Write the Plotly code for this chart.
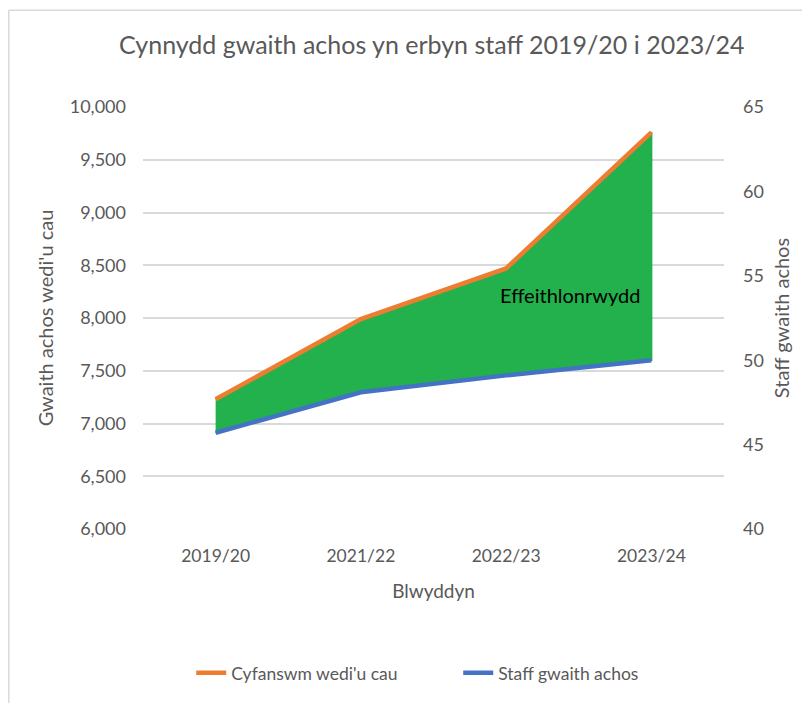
import plotly.graph_objects as go

years = ["2019/20", "2021/22", "2022/23", "2023/24"]
closed = [7230, 7990, 8470, 9760]
staff = [45.7, 48.1, 49.1, 50.0]

L_MIN, L_MAX = 6000, 10000
R_MIN, R_MAX = 40, 65

# staff mapped onto left axis scale for the shaded band
staff_on_left = [L_MIN + (s - R_MIN) * (L_MAX - L_MIN) / (R_MAX - R_MIN) for s in staff]

FONT = "Lato, Carlito, Calibri, sans-serif"
GREY = "#595959"
ORANGE = "#ED7D31"
BLUE = "#4472C4"
GREEN = "#22B14C"

fig = go.Figure()

fig.add_trace(go.Scatter(
    x=years + years[::-1], y=closed + staff_on_left[::-1], mode="lines",
    fill="toself", fillcolor=GREEN, line=dict(color=GREEN, width=2),
    showlegend=False, hoverinfo="skip", yaxis="y"))

fig.add_trace(go.Scatter(
    x=years, y=closed, mode="lines", name="Cyfanswm wedi'u cau",
    line=dict(color=ORANGE, width=4.5), yaxis="y"))

fig.add_trace(go.Scatter(
    x=years, y=staff, mode="lines", name="Staff gwaith achos",
    line=dict(color=BLUE, width=4.5), yaxis="y2"))

fig.add_annotation(
    x=2.443, y=8220, xref="x", yref="y", text="Effeithlonrwydd",
    showarrow=False, font=dict(family=FONT, size=20, color="#000000"))

fig.update_layout(
    width=794, height=695,
    margin=dict(l=135, r=78, t=99, b=163),
    paper_bgcolor="white", plot_bgcolor="white",
    font=dict(family=FONT, color=GREY, size=18),
    title=dict(text="Cynnydd gwaith achos yn erbyn staff 2019/20 i 2023/24",
               x=0.497, xref="paper", xanchor="center",
               y=1 - 37 / 695, yanchor="middle",
               font=dict(family=FONT, size=25, color=GREY)),
    xaxis=dict(type="category", range=[-0.5, 3.5], showgrid=False,
               showline=False, zeroline=False, ticks="",
               ticklabelstandoff=14,
               tickfont=dict(size=17.5, color=GREY),
               title=dict(text="Blwyddyn", standoff=20,
                          font=dict(size=19, color=GREY))),
    yaxis=dict(range=[L_MIN, L_MAX], dtick=500, tickformat=",d",
               showgrid=True, gridcolor="#D9D9D9", gridwidth=1.5,
               zeroline=False, showline=False, ticks="",
               ticklabelstandoff=16,
               tickfont=dict(size=18, color=GREY),
               title=dict(text="Gwaith achos wedi'u cau", standoff=10,
                          font=dict(size=20, color=GREY))),
    yaxis2=dict(range=[R_MIN, R_MAX], dtick=5, overlaying="y", side="right",
                showgrid=False, zeroline=False, showline=False, ticks="",
                ticklabelstandoff=18,
                tickfont=dict(size=18, color=GREY),
                title=dict(text="Staff gwaith achos", standoff=12,
                           font=dict(size=20, color=GREY))),
    legend=dict(orientation="h", x=0.083, xanchor="left",
                y=-0.341, yanchor="middle", entrywidth=222,
                font=dict(size=17.5, color=GREY), bgcolor="rgba(0,0,0,0)"),
    shapes=[
        dict(type="line", xref="paper", yref="paper", x0=-0.231, x1=1.3,
             y0=1.229, y1=1.229, line=dict(color="#D9D9D9", width=1.5)),
        dict(type="line", xref="paper", yref="paper", x0=-0.231, x1=-0.231,
             y0=1.229, y1=-0.5, line=dict(color="#D9D9D9", width=1.5)),
    ],
)

fig.write_html("out.html")
